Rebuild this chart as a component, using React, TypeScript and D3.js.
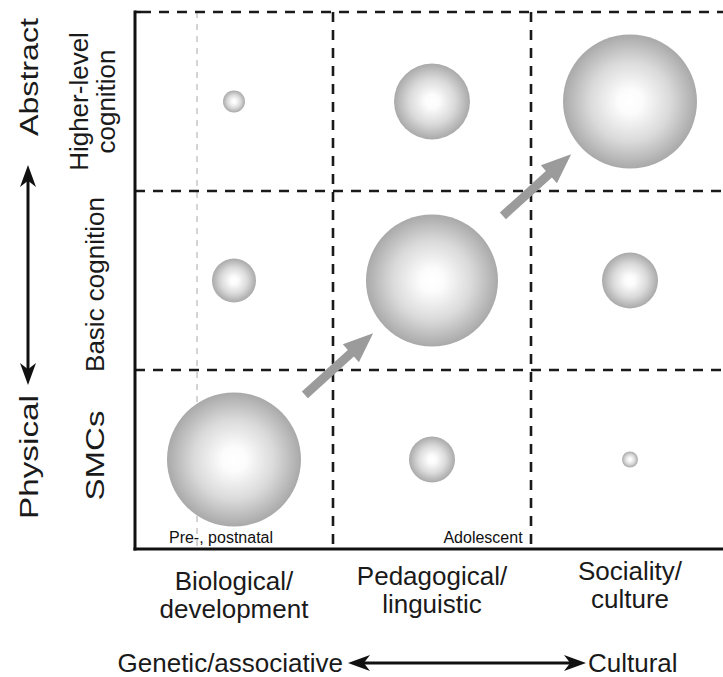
import React from "react";
import * as d3 from "d3";

const columns = ["Biological/development", "Pedagogical/linguistic", "Sociality/culture"];
const columnLabelLines = [["Biological/", "development"], ["Pedagogical/", "linguistic"], ["Sociality/", "culture"]];
const rows = ["Higher-level cognition", "Basic cognition", "SMCs"];
const rowLabelLines = [["Higher-level", "cognition"], ["Basic cognition"], ["SMCs"]];
// relative importance (radius units) per row, per column
const higherValues = [11, 38, 67];
const basicValues = [22, 66, 28];
const smcValues = [67, 23, 8];
const transitions = [
  { from: [0, 2], to: [1, 1] },
  { from: [1, 1], to: [2, 0] },
];
const periodLabels = ["Pre-, postnatal", "Adolescent"];
const yAxisEnds = ["Abstract", "Physical"];
const xAxisEnds = ["Genetic/associative", "Cultural"];

const W = 723, H = 677;
const FONT = "'Liberation Sans', Arial, Helvetica, sans-serif";
const FS = 26;

export default function App() {
  const left = 135, top = 12, bottom = 549, right = 729;
  const x = d3.scaleBand<string>().domain(columns).range([left, right]);
  const y = d3.scaleBand<string>().domain(rows).range([top, bottom]);
  const r = d3.scaleLinear().domain([0, 67]).range([0, 67]);
  const values = [higherValues, basicValues, smcValues];

  const cx = (i: number) => (x(columns[i]) as number) + x.bandwidth() / 2;
  const cy = (j: number) => (y(rows[j]) as number) + y.bandwidth() / 2;

  const dash = "10 8";
  const gridV = [1, 2].map((i) => x(columns[i]) as number);
  const gridH = [0, 1, 2].map((j) => y(rows[j]) as number);

  const headPath = (L: number, Wd: number) =>
    `M0,0 L${-L},${-Wd / 2} L${-L * 0.72},0 L${-L},${Wd / 2} Z`;

  return (
    <svg width={W} height={H} style={{ position: "absolute", left: 0, top: 0, background: "#fff" }}>
      <defs>
        <radialGradient id="ball" cx="50%" cy="50%" r="50%">
          <stop offset="0%" stopColor="#ffffff" />
          <stop offset="18%" stopColor="#fcfcfc" />
          <stop offset="60%" stopColor="#dadada" />
          <stop offset="100%" stopColor="#a9a9a9" />
        </radialGradient>
      </defs>

      {/* thin gray period divider */}
      <line x1={197} x2={197} y1={top} y2={bottom} stroke="#aaa" strokeWidth={1} strokeDasharray="6 6" />

      {/* dashed grid */}
      {gridH.map((gy, k) => (
        <line key={"h" + k} x1={k === 0 ? left + 6 : left} x2={W} y1={gy} y2={gy} stroke="#1a1a1a" strokeWidth={2.6} strokeDasharray={dash} />
      ))}
      {gridV.map((gx, k) => (
        <line key={"v" + k} x1={gx} x2={gx} y1={top} y2={bottom} stroke="#1a1a1a" strokeWidth={2.6} strokeDasharray={dash} />
      ))}

      {/* circles */}
      {values.map((rowVals, j) =>
        rowVals.map((v, i) => (
          <circle key={`${i}-${j}`} cx={cx(i)} cy={cy(j)} r={r(v)} fill="url(#ball)" />
        ))
      )}

      {/* transition arrows */}
      {transitions.map((t, k) => {
        const x0 = cx(t.from[0]), y0 = cy(t.from[1]);
        const x1 = cx(t.to[0]), y1 = cy(t.to[1]);
        const ang = Math.atan2(y1 - y0, x1 - x0);
        const mx = (x(columns[t.to[0]]) as number) + 6;
        const my = (y(rows[t.from[1]]) as number) - 6;
        const len = 92, sw = 9, hl = 30, hw = 24;
        const d = `M${-len / 2},${-sw / 2} L${len / 2 - hl},${-sw / 2} L${len / 2 - hl},${-hw / 2} L${len / 2},0 L${len / 2 - hl},${hw / 2} L${len / 2 - hl},${sw / 2} L${-len / 2},${sw / 2} Z`;
        return <path key={k} d={d} fill="#9b9b9b" transform={`translate(${mx},${my}) rotate(${(ang * 180) / Math.PI})`} />;
      })}

      {/* solid axes */}
      <line x1={left} x2={left} y1={top - 1.5} y2={bottom + 1.5} stroke="#111" strokeWidth={3} />
      <line x1={left} x2={left + 6} y1={top} y2={top} stroke="#111" strokeWidth={2.6} />
      <line x1={left - 1.5} x2={W} y1={bottom} y2={bottom} stroke="#111" strokeWidth={3} />

      {/* period labels */}
      <text x={221} y={543} fontSize={16} fontFamily={FONT} textAnchor="middle" fill="#111">{periodLabels[0]}</text>
      <text x={483} y={543} fontSize={16} fontFamily={FONT} textAnchor="middle" fill="#111">{periodLabels[1]}</text>

      {/* column labels */}
      {columnLabelLines.map((lines, i) => {
        const base = [590, 585, 580][i];
        return lines.map((ln, l) => (
          <text key={i + "-" + l} x={cx(i)} y={base + l * 28} fontSize={FS} fontFamily={FONT} textAnchor="middle" fill="#1a1a1a">{ln}</text>
        ));
      })}

      {/* row labels */}
      {rowLabelLines.map((lines, j) => {
        const bases = lines.length === 2 ? [88, 115] : [104];
        const stretch = j === 2 ? { textLength: 90, lengthAdjust: "spacingAndGlyphs" } : {};
        return lines.map((ln, l) => (
          <text key={j + "-" + l} transform={`translate(${bases[l]},${cy(j) + (j === 0 ? 0 : j === 1 ? 4 : -4)}) rotate(-90)`} fontSize={FS} fontFamily={FONT} textAnchor="middle" fill="#1a1a1a" {...(stretch as any)}>{ln}</text>
        ));
      })}

      {/* vertical abstract/physical axis */}
      <text transform="translate(38,77) rotate(-90)" fontSize={FS} fontFamily={FONT} textAnchor="middle" fill="#1a1a1a" textLength={118} lengthAdjust="spacingAndGlyphs">{yAxisEnds[0]}</text>
      <text transform="translate(38,457) rotate(-90)" fontSize={FS} fontFamily={FONT} textAnchor="middle" fill="#1a1a1a" textLength={124} lengthAdjust="spacingAndGlyphs">{yAxisEnds[1]}</text>
      <line x1={28} x2={28} y1={175} y2={375} stroke="#111" strokeWidth={3} />
      <path d={headPath(22, 16)} fill="#111" transform="translate(28,165) rotate(-90)" />
      <path d={headPath(22, 16)} fill="#111" transform="translate(28,385) rotate(90)" />

      {/* horizontal genetic/cultural axis */}
      <text x={343} y={672} fontSize={FS} fontFamily={FONT} textAnchor="end" fill="#1a1a1a">{xAxisEnds[0]}</text>
      <text x={588} y={672} fontSize={FS} fontFamily={FONT} textAnchor="start" fill="#1a1a1a">{xAxisEnds[1]}</text>
      <line x1={358} x2={576} y1={663} y2={663} stroke="#111" strokeWidth={3} />
      <path d={headPath(22, 16)} fill="#111" transform="translate(348,663) rotate(180)" />
      <path d={headPath(22, 16)} fill="#111" transform="translate(586,663)" />
    </svg>
  );
}
